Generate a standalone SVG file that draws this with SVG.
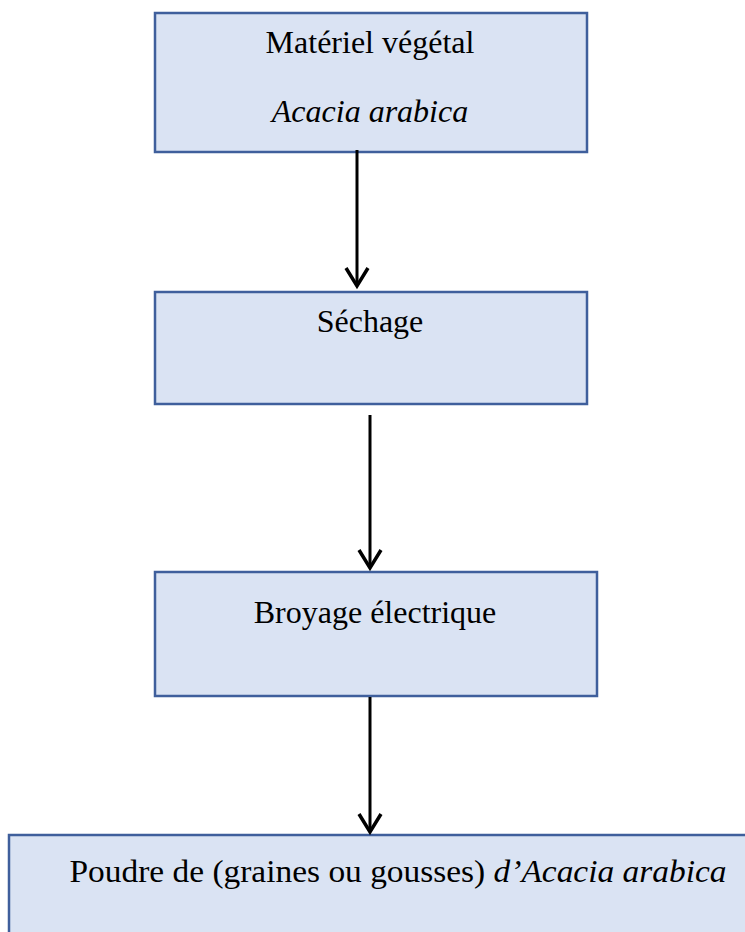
<svg xmlns="http://www.w3.org/2000/svg" width="745" height="932" viewBox="0 0 745 932">
<style>
.box{fill:#dae3f3;stroke:#3f5f9c;stroke-width:2.5}
.t{font-family:"Liberation Serif","Times New Roman",serif;font-size:32px;fill:#000;text-anchor:middle}
.i{font-style:italic}
.c{stroke:#000;stroke-width:3;fill:none}
</style>
<defs>
<marker id="ah" markerWidth="10" markerHeight="10" refX="6" refY="5" orient="auto" markerUnits="userSpaceOnUse" viewBox="0 0 10 10" overflow="visible">
<path d="M-12,-6 L6,5 L-12,16" fill="none" stroke="#000" stroke-width="3.5"/>
</marker>
</defs>
<rect width="745" height="932" fill="#fff"/>
<g id="n1"><rect class="box" x="155" y="13" width="432" height="139"/>
<text class="t" x="370" y="53">Matériel végétal</text>
<text class="t i" x="370" y="122">Acacia arabica</text></g>
<g id="n2"><rect class="box" x="155" y="292" width="432" height="112"/>
<text class="t" x="370" y="332">Séchage</text></g>
<g id="n3"><rect class="box" x="155" y="572" width="442" height="124"/>
<text class="t" x="375" y="623">Broyage électrique</text></g>
<g id="n4"><rect class="box" x="9" y="835" width="780" height="120"/>
<text class="t" x="398" y="882" textLength="657" lengthAdjust="spacingAndGlyphs">Poudre de (graines ou gousses) <tspan class="i">d’Acacia arabica</tspan></text></g>
<g id="connectors">
<path class="c" d="M357,150 V286" marker-end="url(#ah)"/>
<path class="c" d="M370,415 V568" marker-end="url(#ah)"/>
<path class="c" d="M370,697 V832" marker-end="url(#ah)"/>
</g>
</svg>
